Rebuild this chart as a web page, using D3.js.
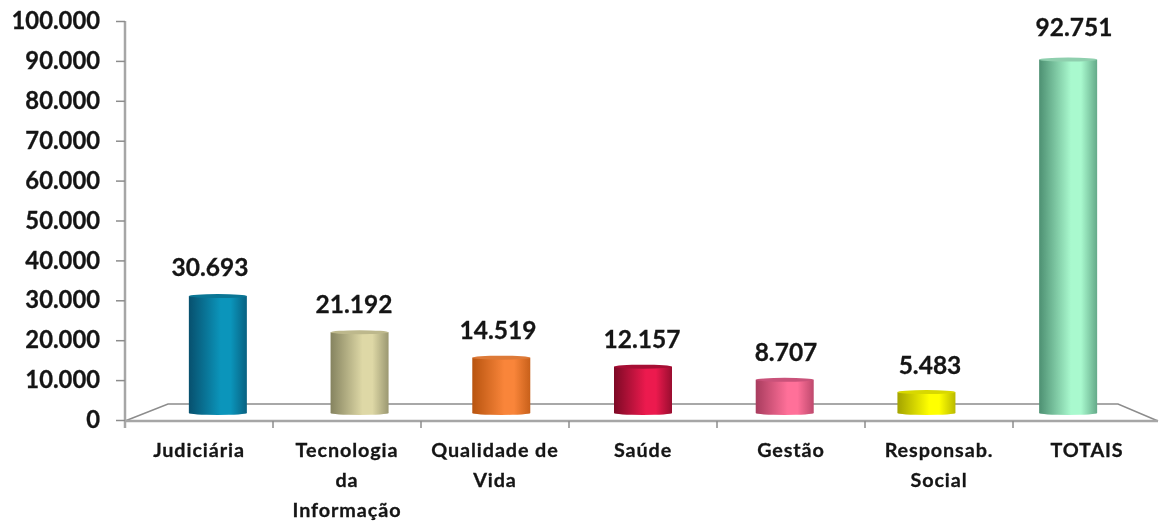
<!DOCTYPE html>
<html>
<head>
<meta charset="utf-8">
<script src="https://cdnjs.cloudflare.com/ajax/libs/d3/7.8.5/d3.min.js"></script>
<style>
	html, body { margin: 0; padding: 0; background: #fff; }
	svg { display: block; filter: blur(0.45px); }
	text { font-family: Lato, "Open Sans", sans-serif; font-weight: 700; fill: #151515; stroke: #151515; stroke-width: 0.3px; }
</style>
</head>
<body>
<svg id="chart" width="1159" height="522"></svg>
<script>
var categorias = ["Judiciária", "Tecnologia da Informação", "Qualidade de Vida", "Saúde", "Gestão", "Responsab. Social", "TOTAIS"];
var lineasCategoria = [["Judiciária"], ["Tecnologia", "da", "Informação"], ["Qualidade de", "Vida"], ["Saúde"], ["Gestão"], ["Responsab.", "Social"], ["TOTAIS"]];
var valores = [30693, 21192, 14519, 12157, 8707, 5483, 92751];
var etiquetas = ["30.693", "21.192", "14.519", "12.157", "8.707", "5.483", "92.751"];
var marcasY = [0, 10000, 20000, 30000, 40000, 50000, 60000, 70000, 80000, 90000, 100000];
var coloresBorde = ["#07506e", "#85835f", "#b8540f", "#7d0925", "#a83c5e", "#a3a300", "#4d9072"];
var coloresLuz = ["#0b95bb", "#ded8a6", "#f9853a", "#ec1a4e", "#ff7099", "#ffff00", "#a9f9ce"];
var coloresTapa = ["#0a7695", "#bdb88c", "#dd7a38", "#a60e34", "#c9527a", "#d8d800", "#8fcfae"];

var width = 1159, height = 522;
var svg = d3.select("#chart");

// eje Y (pared izquierda)
var y = d3.scaleLinear().domain([0, 100000]).range([420, 21]);
// las barras estan sobre el suelo, un poco mas atras que el eje
var yBarra = d3.scaleLinear().domain([0, 100000]).range([413, 32]);
// las etiquetas de valor siguen otra escala, un poco mas abierta
var yEtiqueta = d3.scaleLinear().domain([0, 100000]).range([395, 8]);
// banda del frente del suelo, banda del fondo (barras) y banda de las etiquetas
var xFrente = d3.scaleBand().domain(categorias).range([125, 1161]);
var xBarra = d3.scaleBand().domain(categorias).range([147, 1139]);
var xEtiqueta = d3.scaleBand().domain(categorias).range([138, 1146]);

var _anchoBarra = 58;
var _ryElipse = 2;
var _colorEje = "#a6a6a6";
var _colorFondo = "#8c8c8c";

// gradientes de cada cilindro
var defs = svg.append("defs");
categorias.forEach(function(c, i){
	var g = defs.append("linearGradient").attr("id", "cil" + i);
	g.append("stop").attr("offset", "0%").attr("stop-color", coloresBorde[i]);
	g.append("stop").attr("offset", "55%").attr("stop-color", coloresLuz[i]);
	g.append("stop").attr("offset", "72%").attr("stop-color", coloresLuz[i]);
	g.append("stop").attr("offset", "100%").attr("stop-color", d3.interpolateRgb(coloresBorde[i], coloresLuz[i])(0.25));
});

// suelo en perspectiva
var yFrente = y(0) + 1;
var yFondo = 404;
svg.append("path")
	.attr("d", "M125," + yFrente + "L168," + yFondo + "H1118L1158," + yFrente)
	.attr("fill", "none")
	.attr("stroke", _colorFondo)
	.attr("stroke-width", 1.5);
svg.append("line")
	.attr("x1", 125)
	.attr("x2", 1158)
	.attr("y1", yFrente)
	.attr("y2", yFrente)
	.attr("stroke", _colorEje)
	.attr("stroke-width", 2.5);

// eje Y
var ejeY = svg.append("g")
	.attr("transform", "translate(125,0)")
	.call(d3.axisLeft(y).tickValues(marcasY).tickSize(9).tickPadding(16).tickFormat(function(d){
		return d3.format(",")(d).replace(/,/g, ".");
	}));
ejeY.selectAll("line").attr("stroke", "#8c8c8c").attr("stroke-width", 1.5);
ejeY.select("path").attr("stroke", _colorEje).attr("stroke-width", 2.5).attr("d", "M0," + y(100000) + "V428");
ejeY.selectAll("text").style("font-size", "23.8px").attr("fill", "#151515");

// eje X: marcas en los bordes de cada banda
svg.append("g").selectAll("line")
	.data(categorias.slice(0, -1))
	.enter()
	.append("line")
	.attr("x1", function(d){ return xFrente(d) + xFrente.bandwidth(); })
	.attr("x2", function(d){ return xFrente(d) + xFrente.bandwidth(); })
	.attr("y1", yFrente)
	.attr("y2", yFrente + 7)
	.attr("stroke", _colorFondo)
	.attr("stroke-width", 1.5);

// cilindros
var barras = svg.append("g").selectAll("g")
	.data(categorias)
	.enter()
	.append("g");

barras.append("ellipse")
	.attr("cx", function(d){ return xBarra(d) + xBarra.bandwidth()/2; })
	.attr("cy", yBarra(0))
	.attr("rx", _anchoBarra/2)
	.attr("ry", _ryElipse)
	.attr("fill", function(d, i){ return "url(#cil" + i + ")"; });

barras.append("rect")
	.attr("x", function(d){ return xBarra(d) + xBarra.bandwidth()/2 - _anchoBarra/2; })
	.attr("y", function(d, i){ return yBarra(valores[i]); })
	.attr("width", _anchoBarra)
	.attr("height", function(d, i){ return yBarra(0) - yBarra(valores[i]); })
	.attr("fill", function(d, i){ return "url(#cil" + i + ")"; });

barras.append("ellipse")
	.attr("cx", function(d){ return xBarra(d) + xBarra.bandwidth()/2; })
	.attr("cy", function(d, i){ return yBarra(valores[i]); })
	.attr("rx", _anchoBarra/2)
	.attr("ry", _ryElipse)
	.attr("fill", function(d, i){ return coloresTapa[i]; });

// valor encima de cada barra
barras.append("text")
	.attr("x", function(d){ return xEtiqueta(d) + xEtiqueta.bandwidth()/2; })
	.attr("y", function(d, i){ return yEtiqueta(valores[i]); })
	.attr("text-anchor", "middle")
	.style("font-size", "24.5px")
	.text(function(d, i){ return etiquetas[i]; });

// nombres de categoria
var nombres = svg.append("g").selectAll("text")
	.data(categorias)
	.enter()
	.append("text")
	.attr("text-anchor", "middle")
	.style("font-size", "19.8px")
	.style("letter-spacing", "0.9px");

nombres.selectAll("tspan")
	.data(function(d, i){
		return lineasCategoria[i].map(function(l){ return {linea: l, cat: d}; });
	})
	.enter()
	.append("tspan")
	.attr("x", function(d){ return xFrente(d.cat) + xFrente.bandwidth()/2; })
	.attr("y", function(d, i){ return 457 + i*30; })
	.text(function(d){ return d.linea; });
</script>
</body>
</html>
